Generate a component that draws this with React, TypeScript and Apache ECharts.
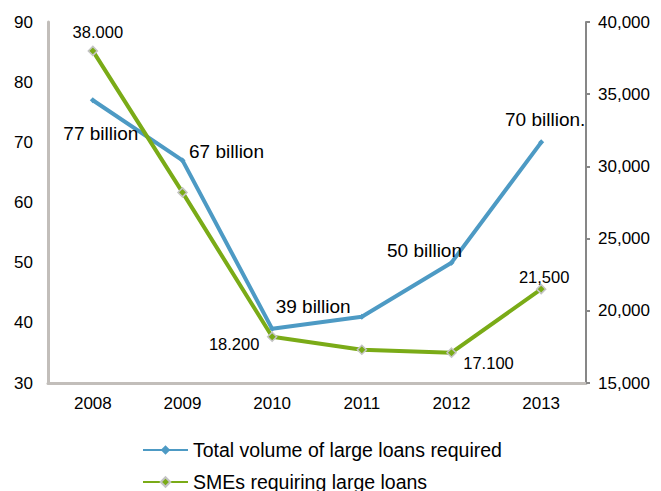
import React, { useEffect, useRef } from "react";
import * as echarts from "echarts";

const years = ["2008", "2009", "2010", "2011", "2012", "2013"];
const totalVolume = [77, 67, 39, 41, 50, 70];
const totalLabels = ["77 billion", "67 billion", "39 billion", "", "50 billion", "70 billion."];
const smes = [38000, 28200, 18200, 17300, 17100, 21500];
const smeLabels = ["38.000", "", "18.200", "", "17.100", "21,500"];

const blueOffsets: number[][] = [[8, 33], [44, -9], [41, -22], [0, 0], [-27, -12], [4, -23]];
const greenOffsets: number[][] = [[5, -19], [0, 0], [-38, 7], [0, 0], [37, 10], [3, -12]];

const SERIES1 = "Total volume of large loans required";
const SERIES2 = "SMEs requiring large loans";

const BLUE = "#4d9ac4";
const GREEN = "#7aab17";
const FONT = "Liberation Sans, Arial, sans-serif";

export default function App() {
  const ref = useRef<HTMLDivElement>(null);
  useEffect(() => {
    if (!ref.current) return;
    const chart = echarts.init(ref.current, undefined, { renderer: "svg" });
    const legendBase = {
      orient: "horizontal",
      left: 137,
      itemWidth: 45,
      itemHeight: 12,
      itemGap: 14,
      textStyle: { fontSize: 19.5, color: "#000", fontFamily: FONT },
    };
    chart.setOption({
      animation: false,
      textStyle: { fontFamily: FONT },
      grid: { left: 48, right: 75, top: 22, bottom: 108 },
      legend: [
        { ...legendBase, top: 435, data: [SERIES1] },
        { ...legendBase, top: 467, data: [SERIES2] },
      ],
      xAxis: {
        type: "category",
        data: years,
        boundaryGap: true,
        axisLine: { lineStyle: { color: "#c2beba", width: 3 } },
        axisTick: { show: false },
        axisLabel: { color: "#000", fontSize: 17, margin: 12, fontFamily: FONT },
      },
      yAxis: [
        {
          type: "value",
          min: 30,
          max: 90,
          interval: 10,
          position: "left",
          axisLine: { show: true, lineStyle: { color: "#c2beba", width: 3 } },
          axisTick: { show: false },
          splitLine: { show: false },
          axisLabel: { color: "#000", fontSize: 17, margin: 15, fontFamily: FONT },
        },
        {
          type: "value",
          min: 15000,
          max: 40000,
          interval: 5000,
          position: "right",
          axisLine: { show: true, lineStyle: { color: "#878787", width: 2 } },
          axisTick: { show: true, length: 4, lineStyle: { color: "#878787", width: 2 } },
          splitLine: { show: false },
          axisLabel: {
            color: "#000",
            fontSize: 17,
            margin: 12,
            fontFamily: FONT,
            formatter: (v: number) => v.toLocaleString("en-US"),
          },
        },
      ],
      series: [
        {
          name: SERIES1,
          type: "line",
          yAxisIndex: 0,
          symbol: "diamond",
          symbolSize: 6,
          itemStyle: { color: BLUE },
          lineStyle: { color: BLUE, width: 4 },
          data: totalVolume.map((v, i) => ({
            value: v,
            label: {
              show: totalLabels[i] !== "",
              position: "inside",
              offset: blueOffsets[i],
              formatter: totalLabels[i],
              color: "#000",
              fontSize: 19,
              fontFamily: FONT,
            },
          })),
          z: 3,
        },
        {
          name: SERIES2,
          type: "line",
          yAxisIndex: 1,
          symbol: "diamond",
          symbolSize: 9,
          itemStyle: { color: GREEN, borderColor: "#c4c4c4", borderWidth: 1.5 },
          lineStyle: { color: GREEN, width: 4 },
          data: smes.map((v, i) => ({
            value: v,
            label: {
              show: smeLabels[i] !== "",
              position: "inside",
              offset: greenOffsets[i],
              formatter: smeLabels[i],
              color: "#000",
              fontSize: 16.5,
              fontFamily: FONT,
            },
          })),
          z: 4,
        },
      ],
    });
    return () => chart.dispose();
  }, []);
  return (
    <div
      ref={ref}
      style={{ position: "fixed", left: 0, top: 0, width: 661, height: 491, background: "#fff" }}
    />
  );
}
